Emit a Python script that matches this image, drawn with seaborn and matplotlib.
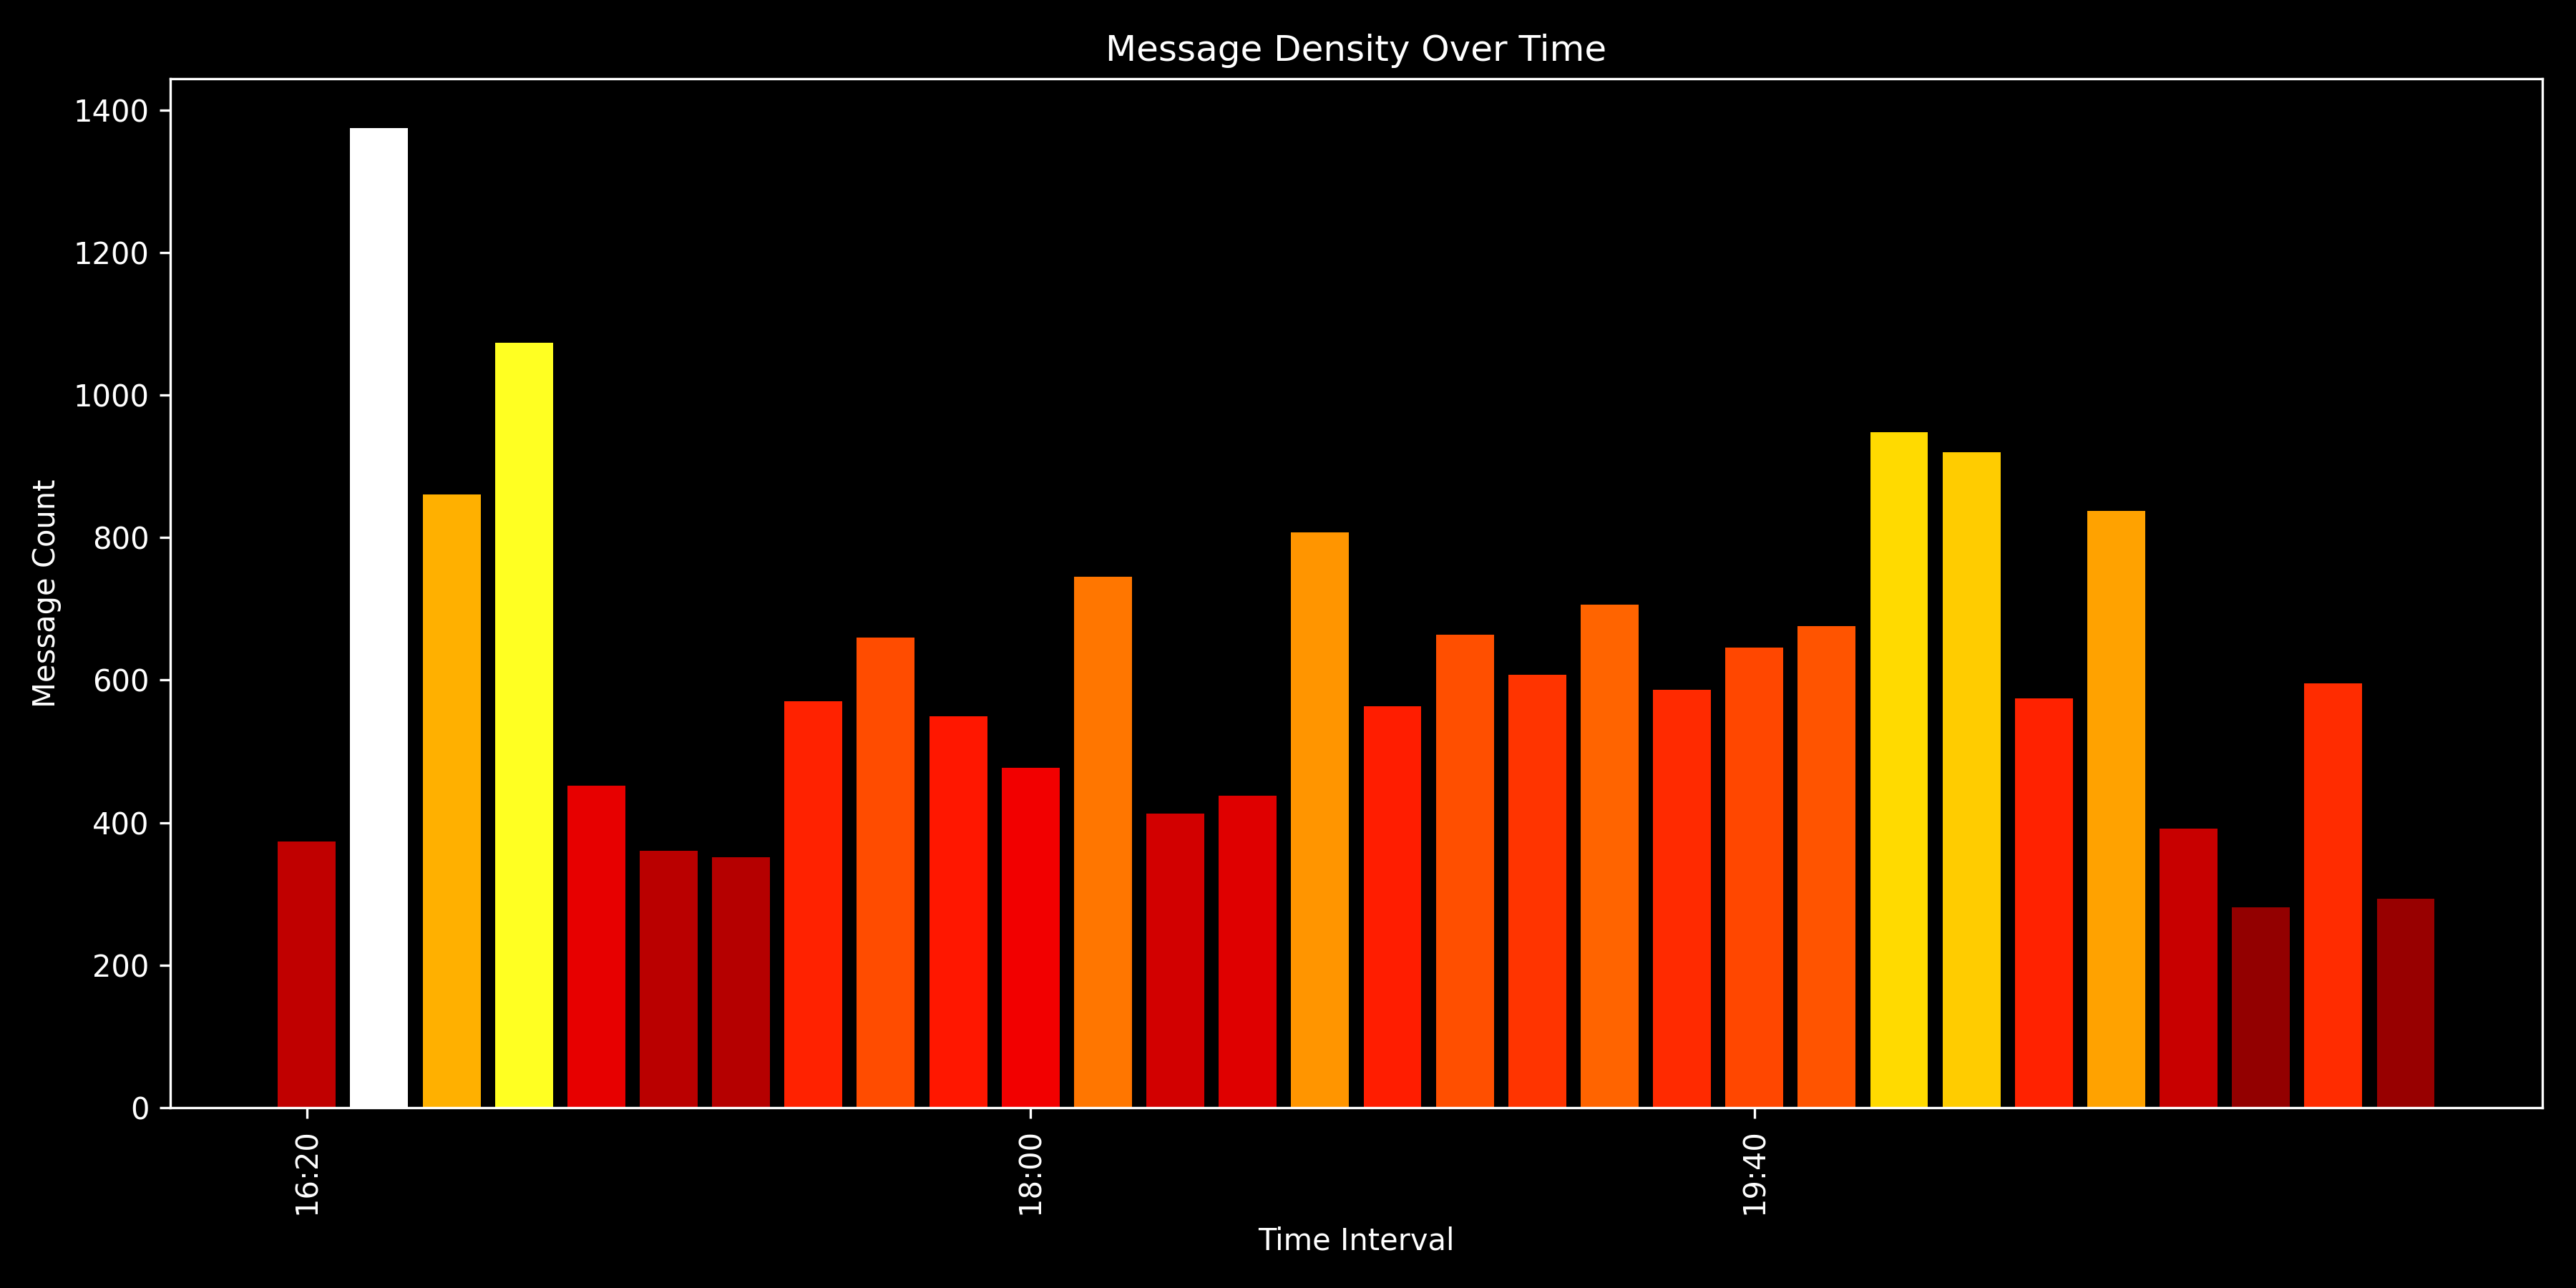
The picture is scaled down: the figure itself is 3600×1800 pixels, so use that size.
import seaborn as sns
import matplotlib.pyplot as plt
import pandas as pd

# 10-minute intervals from 16:20 to 21:10
times = pd.date_range('2024-01-01 16:20', periods=30, freq='10min')
labels = [t.strftime('%H:%M') for t in times]
counts = [374, 1375, 860, 1073, 452, 360, 351, 570, 660, 549,
          477, 745, 413, 438, 807, 563, 664, 607, 706, 586,
          646, 676, 948, 920, 574, 837, 392, 281, 595, 293]

plt.style.use('dark_background')

colors = [plt.cm.hot(c / max(counts)) for c in counts]

fig, ax = plt.subplots(figsize=(12, 6), dpi=300)
sns.barplot(x=labels, y=counts, hue=labels, palette=colors, legend=False,
            saturation=1, width=0.8, ax=ax)

ax.set_xlim(-1.89, len(counts) - 1 + 1.89)
ax.set_xticks([0, 10, 20])
ax.set_xticklabels([labels[0], labels[10], labels[20]], rotation=90)
ax.set_ylim(0, 1444)

ax.set_title('Message Density Over Time')
ax.set_xlabel('Time Interval')
ax.set_ylabel('Message Count')

plt.subplots_adjust(left=0.066, right=0.987, top=0.939, bottom=0.140)
plt.savefig('out.png', dpi=300)
